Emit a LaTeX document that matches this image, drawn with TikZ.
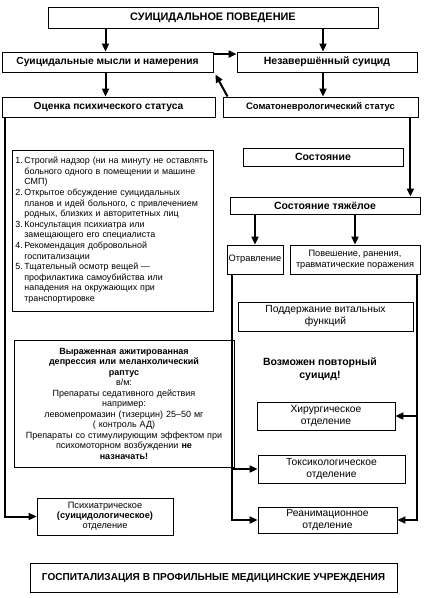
\documentclass[tikz,border=0pt]{standalone}
\usepackage{fontspec}
\setmainfont{Liberation Sans}
\usepackage{tikz}
\usetikzlibrary{arrows.meta,positioning,calc}
\tikzset{
  box/.style={draw, line width=0.9pt, align=center, inner sep=2pt},
  head/.style={font=\bfseries\fontsize{10.5}{12}\selectfont},
  small/.style={font=\fontsize{9}{10.5}\selectfont},
  ward/.style={font=\fontsize{10.3}{12}\selectfont},
}
\begin{document}
\begin{tikzpicture}[x=1pt,y=-1pt,line width=2pt,>={Triangle[length=8pt,width=7pt]}]
           \useasboundingbox (0,0) rectangle (425,598);
           % top row
           \node[box, font=\bfseries\fontsize{10.9}{12}\selectfont, minimum width=330, minimum height=21] (beh) at (213,17.5) {СУИЦИДАЛЬНОЕ ПОВЕДЕНИЕ};
           \node[box, font=\bfseries\fontsize{10.2}{12}\selectfont, minimum width=211, minimum height=20] (thoughts) at (107.5,62) {Суицидальные мысли и намерения};
           \node[box, head, minimum width=180, minimum height=20] (attempt) at (327,62) {Незавершённый суицид};
           \node[box, font=\bfseries\fontsize{10.2}{12}\selectfont, minimum width=213, minimum height=20] (psy) at (108.5,107) {Оценка психического статуса};
           \node[box, font=\bfseries\fontsize{9.4}{11}\selectfont, minimum width=195, minimum height=20] (soma) at (320.5,107) {Соматоневрологический статус};
           % left column
           \node[box, font=\fontsize{8.9}{10.6}\selectfont, align=left, text width=194, minimum height=161, inner sep=3.5pt] (care) at (112.5,230.5) {%
             \begin{tabular}{@{}l@{\,}p{190pt}@{}}
             1. & Строгий надзор (ни на минуту не оставлять\newline больного одного в помещении и машине\newline СМП)\\
             2. & Открытое обсуждение суицидальных\newline планов и идей больного, с привлечением\newline родных, близких и авторитетных лиц\\
             3. & Консультация психиатра или\newline замещающего его специалиста\\
             4. & Рекомендация добровольной\newline госпитализации\\
             5. & Тщательный осмотр вещей —\newline профилактика самоубийства или\newline нападения на окружающих при\newline транспортировке
             \end{tabular}};
           \node[box, small, text width=216, minimum height=127] (depr) at (124,403.5) {%
             \textbf{Выраженная ажитированная}\\
             \textbf{депрессия или меланхолический}\\
             \textbf{раптус}\\
             в/м:\\
             Препараты седативного действия\\
             например:\\
             левомепромазин (тизерцин) 25–50 мг\\
             ( контроль АД)\\
             Препараты со стимулирующим эффектом при\\
             психомоторном возбуждении \textbf{не}\\
             \textbf{назначать!}};
           \node[box, font=\fontsize{9.2}{10}\selectfont, minimum width=136, minimum height=37] (ward) at (105,516.5) {Психиатрическое\\\textbf{(суицидологическое)}\\отделение};
           % right column
           \node[box, head, minimum width=160, minimum height=18] (state) at (323,157) {Состояние};
           \node[box, head, minimum width=190, minimum height=17] (severe) at (325,205.5) {Состояние тяжёлое};
           \node[box, font=\fontsize{9.3}{11}\selectfont, minimum width=56, minimum height=29, inner sep=1pt] (poison) at (255,259.5) {Отравление};
           \node[box, font=\fontsize{9.2}{11}\selectfont, minimum width=130, minimum height=29] (hang) at (355,259.5) {Повешение, ранения,\\травматические поражения};
           \node[box, ward, minimum width=175, minimum height=29] (vital) at (325.5,316.5) {Поддержание витальных\\функций};
           \node[align=center, font=\bfseries\fontsize{10.5}{13}\selectfont] (again) at (320,369) {Возможен повторный\\суицид!};
           \node[box, ward, minimum width=138, minimum height=28] (surg) at (326,416) {Хирургическое\\отделение};
           \node[box, ward, minimum width=147, minimum height=28] (tox) at (331.5,469) {Токсикологическое\\отделение};
           \node[box, ward, minimum width=139, minimum height=26] (icu) at (327.5,520) {Реанимационное\\отделение};
           % bottom
           \node[box, font=\bfseries\fontsize{10.1}{12}\selectfont, minimum width=367, minimum height=29] (hosp) at (213.5,577.5) {ГОСПИТАЛИЗАЦИЯ В ПРОФИЛЬНЫЕ МЕДИЦИНСКИЕ УЧРЕЖДЕНИЯ};
           % connectors
           \coordinate (ll) at ([xshift=5pt]poison.south west);
           \coordinate (rl) at ([xshift=-3pt]hang.south east);
           \coordinate (sl) at ([xshift=-8pt]soma.south east);
            \path[->]
            ([xshift=-2pt]beh.south -| thoughts.north) edge ([xshift=-2pt]thoughts.north)
            ([xshift=-4pt]beh.south -| attempt.north) edge ([xshift=-4pt]attempt.north)
            ([yshift=-2.5pt]thoughts.north east) edge ([yshift=-2.5pt]thoughts.north east -| attempt.west)
            ([xshift=-4pt]attempt.south) edge ([xshift=-4pt]attempt.south |- soma.north)
            ([xshift=5pt]soma.north west) edge ([xshift=2pt,yshift=-2pt]thoughts.south east)
            ([xshift=-2pt]thoughts.south) edge ([xshift=-2pt]thoughts.south |- psy.north)
            (sl) edge (sl |- severe.north)
            (severe.south -| poison.north) edge (poison.north)
            (severe.south -| hang.north) edge (hang.north)
            (ll |- tox.west) edge (tox.west)
            (rl |- surg.east) edge (surg.east);
            \draw[->] ([xshift=3pt]psy.south west) |- (ward.west);
            \draw[->] (ll) |- (icu.west);
            \draw[->] (rl) |- (icu.east);
        \end{tikzpicture}
\end{document}
